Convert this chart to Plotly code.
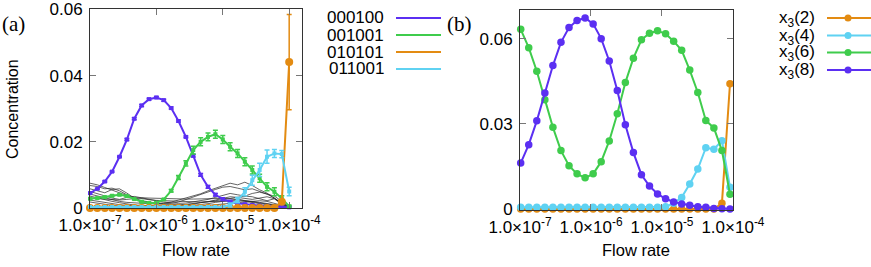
import plotly.graph_objects as go

W, H = 871, 267

# ---------------- data ----------------
# left panel (a): flow rates (28 samples)
flow_a = [1.00e-7, 1.29e-7, 1.67e-7, 2.15e-7, 2.78e-7, 3.59e-7, 4.64e-7, 5.99e-7, 7.74e-7,
          1.00e-6, 1.29e-6, 1.67e-6, 2.15e-6, 2.78e-6, 3.59e-6, 4.64e-6, 5.99e-6, 7.74e-6,
          1.00e-5, 1.29e-5, 1.67e-5, 2.15e-5, 2.78e-5, 3.59e-5, 4.64e-5, 5.99e-5, 7.74e-5,
          1.00e-4]
s000100 = [0.0045, 0.0058, 0.0080, 0.0110, 0.0155, 0.0207, 0.0270, 0.0310, 0.0329, 0.0334,
           0.0326, 0.0302, 0.0263, 0.0215, 0.0158, 0.0100, 0.0064, 0.0040, 0.0027, 0.0019,
           0.0014, 0.0011, 0.0009, 0.0007, 0.0005, 0.0004, 0.0003, 0.0002]
e000100 = [0.0002] * 5 + [0.0003] * 9 + [0.0004] * 7 + [0.0003] * 7
s001001 = [0.0028, 0.0030, 0.0033, 0.0037, 0.0040, 0.0036, 0.0027, 0.0019, 0.0015, 0.0016,
           0.0026, 0.0052, 0.0092, 0.0135, 0.0175, 0.0200, 0.0215, 0.0223, 0.0207, 0.0185,
           0.0165, 0.0140, 0.0115, 0.0090, 0.0064, 0.0049, 0.0029, 0.0005]
e001001 = [0.0002] * 11 + [0.0004, 0.0006, 0.0008] + [0.0012] * 12 + [0.0008, 0.0003]
s010101 = [0.0] * 26 + [0.0019, 0.0441]
e010101 = [0.0] * 26 + [0.0004, 0.0144]
s011001 = [0.0003] * 19 + [0.0009, 0.0024, 0.0049, 0.0084, 0.0115, 0.0155, 0.0165, 0.0163, 0.0050]
e011001 = [0.0001] * 19 + [0.0006, 0.0008, 0.0012, 0.0015, 0.0020, 0.0020, 0.0012, 0.0011, 0.0013]

# other species (thin black lines), values in units of 1e-3
others_milli = [
    [7.5, 7.0, 6.2, 5.4, 4.5, 3.8, 3.2, 2.8, 2.5, 2.3, 2.2, 2.1, 2.0, 1.9, 1.8, 1.8, 1.9, 2.0, 2.2, 2.3, 2.2, 2.0, 1.6, 1.3, 1.0, 0.7, 0.3, 0.1],
    [6.8, 6.5, 5.8, 6.0, 5.2, 4.0, 2.8, 2.0, 1.6, 1.4, 1.5, 1.8, 2.4, 3.0, 3.6, 4.3, 5.2, 6.0, 6.8, 7.5, 7.0, 7.8, 6.8, 5.5, 4.5, 3.0, 1.2, 0.2],
    [5.8, 5.2, 4.6, 5.6, 5.8, 4.5, 3.0, 2.2, 1.8, 1.5, 1.3, 1.4, 1.8, 2.6, 3.4, 4.0, 4.8, 5.6, 6.3, 6.5, 6.0, 5.5, 5.8, 5.0, 4.2, 3.0, 1.5, 0.3],
    [5.0, 4.3, 3.6, 3.0, 2.6, 3.2, 3.5, 3.0, 2.6, 2.2, 1.8, 1.6, 1.4, 1.5, 1.8, 2.2, 2.6, 3.2, 3.8, 4.4, 4.0, 3.6, 4.4, 4.8, 4.2, 3.6, 2.0, 0.4],
    [4.2, 3.6, 3.0, 2.4, 2.0, 1.7, 1.5, 1.4, 1.3, 1.2, 1.1, 1.0, 1.0, 1.1, 1.3, 1.5, 1.9, 2.4, 3.0, 3.4, 3.2, 2.9, 2.6, 3.0, 3.4, 2.8, 1.6, 0.3],
    [3.6, 3.0, 2.5, 2.0, 1.6, 1.2, 0.9, 0.8, 0.7, 0.6, 0.6, 0.6, 0.7, 0.9, 1.2, 1.6, 2.0, 2.2, 2.5, 2.8, 3.2, 3.6, 3.4, 2.8, 2.2, 2.8, 1.0, 0.2],
    [3.0, 2.8, 2.6, 2.4, 2.4, 2.6, 2.9, 3.1, 3.0, 2.9, 2.8, 2.8, 2.8, 2.7, 2.7, 2.8, 2.8, 2.9, 2.9, 2.8, 2.6, 2.3, 2.0, 1.7, 1.4, 1.0, 0.5, 0.1],
    [2.4, 2.0, 1.6, 1.3, 1.0, 0.8, 0.6, 0.5, 0.4, 0.4, 0.4, 0.4, 0.5, 0.6, 0.8, 1.0, 1.3, 1.7, 2.0, 2.4, 2.6, 2.2, 1.8, 1.5, 1.2, 0.9, 0.5, 0.1],
    [1.8, 1.4, 1.1, 0.8, 0.6, 0.5, 0.4, 0.3, 0.3, 0.3, 0.3, 0.3, 0.3, 0.4, 0.5, 0.6, 0.8, 1.0, 1.2, 1.4, 1.6, 1.8, 2.0, 2.2, 2.0, 1.5, 0.8, 0.1],
]

# right panel (b): flow rates (27 samples)
flow_b = [1.023e-7, 1.328e-7, 1.725e-7, 2.240e-7, 2.908e-7, 3.776e-7, 4.903e-7, 6.366e-7, 8.265e-7,
          1.073e-6, 1.393e-6, 1.809e-6, 2.349e-6, 3.050e-6, 3.960e-6, 5.140e-6, 6.675e-6, 8.667e-6,
          1.125e-5, 1.461e-5, 1.897e-5, 2.463e-5, 3.198e-5, 4.152e-5, 5.391e-5, 6.998e-5, 9.087e-5]
x3_2 = [0.0] * 25 + [0.0020, 0.0442]
x3_4 = [0.0006] * 18 + [0.0008, 0.0020, 0.0041, 0.0088, 0.0141, 0.0216, 0.0211, 0.0241, 0.0077]
x3_6 = [0.0634, 0.0569, 0.0486, 0.0385, 0.0288, 0.0206, 0.0153, 0.0124, 0.0110, 0.0124,
        0.0167, 0.0240, 0.0336, 0.0446, 0.0532, 0.0597, 0.0620, 0.0629, 0.0618, 0.0592,
        0.0560, 0.0490, 0.0411, 0.0312, 0.0286, 0.0206, 0.0052]
x3_8 = [0.0162, 0.0227, 0.0311, 0.0409, 0.0506, 0.0588, 0.0640, 0.0665, 0.0674, 0.0653,
        0.0601, 0.0522, 0.0418, 0.0297, 0.0199, 0.0121, 0.0081, 0.0053, 0.0036, 0.0025,
        0.0018, 0.0013, 0.0008, 0.0006, 0.0002, 0.0001, 0.0000]

tick_vals = [1e-7, 1e-6, 1e-5, 1e-4]
tick_text = ["1.0×10<sup>-7</sup>", "1.0×10<sup>-6</sup>", "1.0×10<sup>-5</sup>", "1.0×10<sup>-4</sup>"]
legend_a = ["000100", "001001", "010101", "011001"]
legend_b = ["x<sub>3</sub>(2)", "x<sub>3</sub>(4)", "x<sub>3</sub>(6)", "x<sub>3</sub>(8)"]

PURPLE = "#5b2ff2"
GREEN = "#3fcc4c"
ORANGE = "#e38b12"
CYAN = "#5fd2f2"

FONT = "Liberation Sans, Arial, sans-serif"

fig = go.Figure()

# ---- panel (a) ----
for ys in others_milli:
    fig.add_trace(go.Scatter(x=flow_a, y=[v / 1000 for v in ys], mode="lines",
                             line=dict(color="#222", width=0.7), xaxis="x", yaxis="y",
                             showlegend=False, hoverinfo="skip"))

def err_trace(ys, es, color, msym, msize):
    return go.Scatter(x=flow_a, y=ys, mode="lines+markers", xaxis="x", yaxis="y",
                      line=dict(color=color, width=2),
                      marker=dict(color=color, symbol=msym, size=msize, line=dict(width=0)),
                      error_y=dict(type="data", array=es, color=color, thickness=1.5, width=2.5),
                      cliponaxis=False, showlegend=False)

fig.add_trace(err_trace(s000100, e000100, PURPLE, "square", 4))
fig.add_trace(err_trace(s001001, e001001, GREEN, "square", 4))
fig.add_trace(err_trace(s010101, e010101, ORANGE, "circle", 8))
fig.add_trace(err_trace(s011001, e011001, CYAN, "square", 4))

# ---- panel (b) ----
for ys, c in [(x3_2, ORANGE), (x3_4, CYAN), (x3_6, GREEN), (x3_8, PURPLE)]:
    fig.add_trace(go.Scatter(x=flow_b, y=ys, mode="lines+markers", xaxis="x2", yaxis="y2",
                             line=dict(color=c, width=2),
                             marker=dict(color=c, size=7.5, line=dict(width=0)),
                             cliponaxis=False, showlegend=False))

def px(x):
    return x / W

def py(y):
    return 1 - y / H

axis_common = dict(type="log", showgrid=False, zeroline=False, showline=True, linecolor="#333",
                   linewidth=1, mirror="ticks", ticks="inside", ticklen=6, tickcolor="#777",
                   tickwidth=1, tickvals=tick_vals, ticktext=tick_text, tickangle=0,
                   automargin=False, ticklabelstandoff=2,
                   tickfont=dict(family=FONT, size=17, color="black"))
yaxis_common = dict(showgrid=False, zeroline=False, showline=True, linecolor="#333", linewidth=1,
                    mirror="ticks", ticks="inside", ticklen=6, tickcolor="#777", tickwidth=1,
                    automargin=False, ticklabelstandoff=3,
                    tickfont=dict(family=FONT, size=17, color="black"))

fig.update_layout(
    width=W, height=H, margin=dict(l=0, r=0, t=0, b=0, pad=0, autoexpand=False),
    paper_bgcolor="white", plot_bgcolor="white", showlegend=False,
    xaxis=dict(axis_common, domain=[px(90), px(302)], range=[-7, -3.807], anchor="y"),
    yaxis=dict(yaxis_common, domain=[py(208), py(9)], range=[0, 0.06015], anchor="x",
               tickvals=[0, 0.02, 0.04, 0.06], ticktext=["0", "0.02", "0.04", "0.06"]),
    xaxis2=dict(axis_common, domain=[px(520), px(733)], range=[-7, -3.999], anchor="y2"),
    yaxis2=dict(yaxis_common, domain=[py(210), py(10)], range=[-0.00035, 0.0702], anchor="x2",
                tickvals=[0, 0.03, 0.06], ticktext=["0", "0.03", "0.06"]),
)

ann = []
def text(x, y, s, size=17, xanchor="center", angle=0, family=FONT):
    ann.append(dict(x=px(x), y=py(y), xref="paper", yref="paper", text=s, showarrow=False,
                    xanchor=xanchor, yanchor="middle", textangle=angle, borderpad=0,
                    font=dict(family=family, size=size, color="black")))

text(12, 109, "Concentration", size=16, angle=-90)
text(196, 250, "Flow rate", size=16.5)
text(636, 250, "Flow rate", size=16.5)
text(13, 24, "(a)", size=21, family="Liberation Serif, Times New Roman, serif")
text(460, 24, "(b)", size=21, family="Liberation Serif, Times New Roman, serif")

shapes = []
rows_a = [18, 35, 52, 69]
for lab, c, yy in zip(legend_a, [PURPLE, GREEN, ORANGE, CYAN], rows_a):
    text(385, yy, lab, xanchor="right")
    shapes.append(dict(type="line", xref="paper", yref="paper", x0=px(396), x1=px(441),
                       y0=py(yy), y1=py(yy), line=dict(color=c, width=2)))
rows_b = [18, 35.5, 52.5, 70]
for lab, c, yy in zip(legend_b, [ORANGE, CYAN, GREEN, PURPLE], rows_b):
    text(816, yy + 1, lab, xanchor="right")
    shapes.append(dict(type="line", xref="paper", yref="paper", x0=px(827), x1=px(871),
                       y0=py(yy), y1=py(yy), line=dict(color=c, width=2)))
    shapes.append(dict(type="circle", xref="paper", yref="paper", x0=px(844.5), x1=px(851.5),
                       y0=py(yy + 3.5), y1=py(yy - 3.5), fillcolor=c, line=dict(width=0)))

fig.update_layout(annotations=ann, shapes=shapes)
fig.write_html("out.html", config={"displayModeBar": False},
               post_script="document.body.style.margin='0';document.body.style.padding='0';"
                           "document.body.style.overflow='hidden';")
